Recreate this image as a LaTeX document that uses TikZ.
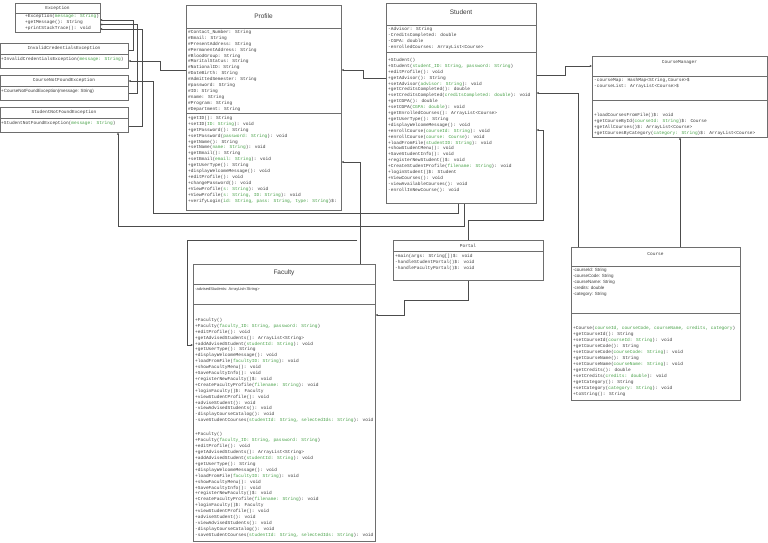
\documentclass[tikz,border=0pt]{standalone}
\usepackage{fontspec}
\setmainfont{Liberation Sans}
\newfontfamily\monof{Liberation Mono}
\usetikzlibrary{arrows.meta}
\definecolor{bc}{RGB}{110,110,110}
\definecolor{tc}{RGB}{60,60,60}
\definecolor{pg}{RGB}{70,160,70}
\newcommand\g[1]{\textcolor{pg}{#1}}
\begin{document}
\begin{tikzpicture}[x=1pt,y=-1pt,
  cls/.style={draw=bc,line width=0.5pt,anchor=north west,inner sep=0pt},
  mem/.style={anchor=north west,inner sep=0pt,align=left,text=tc,font=\monof\fontsize{4.5}{5.9}\selectfont},
  smem/.style={mem,font=\fontsize{4.5}{5.9}\selectfont},
  ttl/.style={text=tc,font=\monof\fontsize{4.5}{5.5}\selectfont},
  bigt/.style={text=tc,font=\fontsize{6.5}{7}\selectfont},
  sep/.style={draw=bc,line width=0.5pt},
  con/.style={draw=black!70,line width=0.5pt,-{Latex[length=2.2pt,width=2.2pt]}}]
\useasboundingbox (0,0) rectangle (768,542);
\fill[white] (0,0) rectangle (768,542);
% Exception
\node[cls,minimum width=85pt,minimum height=29pt] (exc) at (15,3) {};
\draw[sep] (15,13) -- (100,13);
\node[ttl] at (57.5,8) {Exception};
\node[mem] at (17,14) {\hspace*{8pt}+Exception(\g{message: String})\\\hspace*{8pt}+getMessage(): String\\\hspace*{8pt}+printStackTrace(): void};
% InvalidCredentials
\node[cls,minimum width=128pt,minimum height=25pt] (inv) at (0,43) {};
\draw[sep] (0,54) -- (128,54);
\node[ttl] at (64,48.5) {InvalidCredentialsException};
\node[mem] at (1,57.5) {+InvalidCredentialsException(\g{message: String})};
% CourseNotFound
\node[cls,minimum width=128pt,minimum height=25pt] (cnf) at (0,75) {};
\draw[sep] (0,86) -- (128,86);
\node[ttl] at (64,80.5) {CourseNotFoundException};
\node[smem] at (1,89.5) {+CourseNotFoundException(message: String)};
% StudentNotFound
\node[cls,minimum width=128pt,minimum height=25pt] (snf) at (0,107) {};
\draw[sep] (0,118) -- (128,118);
\node[ttl] at (64,112.5) {StudentNotFoundException};
\node[mem] at (1,121.5) {+StudentNotFoundException(\g{message: String})};
% Profile
\node[cls,minimum width=155pt,minimum height=205pt] (prof) at (186,5) {};
\draw[sep] (186,28) -- (341,28);
\draw[sep] (186,113) -- (341,113);
\node[bigt] at (263.5,16) {Profile};
\node[mem] at (188,30) {\#Contact\_Number: String\\\#Email: String\\\#PresentAddress: String\\\#PermanentAddress: String\\\#BloodGroup: String\\\#MaritalStatus: String\\\#NationalID: String\\\#DateBirth: String\\\#AdmittedSemester: String\\\#password: String\\\#ID: String\\\#name: String\\\#Program: String\\\#Department: String};
\node[mem] at (188,116) {+getID(): String\\+setID(\g{ID: String}): void\\+getPassword(): String\\+setPassword(\g{password: String}): void\\+getName(): String\\+setName(\g{name: String}): void\\+getEmail(): String\\+setEmail(\g{email: String}): void\\+getUserType(): String\\+displayWelcomeMessage(): void\\+editProfile(): void\\+changePassword(): void\\+ViewProfile(\g{s: String}): void\\+ViewProfile(\g{s: String, ID: String}): void\\+verifyLogin(\g{id: String, pass: String, type: String})\$:};
% Student
\node[cls,minimum width=150pt,minimum height=200pt] (stu) at (386,3) {};
\draw[sep] (386,25) -- (536,25);
\draw[sep] (386,52) -- (536,52);
\node[bigt] at (461,12) {Student};
\node[mem] at (388,27) {-Advisor: String\\-CreditsCompleted: double\\-CGPA: double\\-enrolledCourses: ArrayList<Course>};
\node[mem] at (388,58) {+Student()\\+Student(\g{student\_ID: String, password: String})\\+editProfile(): void\\+getAdvisor(): String\\+setAdvisor(\g{advisor: String}): void\\+getCreditsCompleted(): double\\+setCreditsCompleted(\g{creditsCompleted: double}): void\\+getCGPA(): double\\+setCGPA(\g{CGPA: double}): void\\+getEnrolledCourses(): ArrayList<Course>\\+getUserType(): String\\+displayWelcomeMessage(): void\\+enrollCourse(\g{courseId: String}): void\\+enrollCourse(\g{course: Course}): void\\+loadFromFile(\g{studentID: String}): void\\+showStudentMenu(): void\\+SaveStudentInfo(): void\\+registerNewStudent()\$: void\\+CreateStudentProfile(\g{filename: String}): void\\+loginStudent()\$: Student\\+ViewCourses(): void\\-viewAvailableCourses(): void\\-enrollInNewCourse(): void};
% CourseManager
\node[cls,minimum width=175pt,minimum height=81pt] (cm) at (592,56) {};
\draw[sep] (592,76) -- (767,76);
\draw[sep] (592,100) -- (767,100);
\node[ttl] at (679.5,62) {CourseManager};
\node[mem] at (594,78) {-courseMap: HashMap<String,Course>\$\\ -courseList: ArrayList<Course>\$};
\node[mem] at (594,113) {+loadCoursesFromFile()\$: void\\+getCourseById(\g{courseId: String})\$: Course\\+getAllCourses()\$: ArrayList<Course>\\+getCoursesByCategory(\g{category: String})\$: ArrayList<Course>};
% Portal
\node[cls,minimum width=150pt,minimum height=40pt] (por) at (393,240) {};
\draw[sep] (393,251) -- (543,251);
\node[ttl] at (468,245.5) {Portal};
\node[mem] at (395,254.5) {+main(args: String[])\$: void\\-handleStudentPortal()\$: void\\-handleFacultyPortal()\$: void};
% Course
\node[cls,minimum width=169pt,minimum height=153pt] (crs) at (571,247) {};
\draw[sep] (571,266) -- (740,266);
\draw[sep] (571,313) -- (740,313);
\node[ttl] at (655.5,254) {Course};
\node[smem] at (573,268) {-courseId: String\\-courseCode: String\\-courseName: String\\-credits: double\\-category: String};
\node[mem,font=\monof\fontsize{4.5}{6}\selectfont] at (573,326) {+Course(\g{courseId, courseCode, courseName, credits, category})\\+getCourseId(): String\\+setCourseId(\g{courseId: String}): void\\+getCourseCode(): String\\+setCourseCode(\g{courseCode: String}): void\\+getCourseName(): String\\+setCourseName(\g{courseName: String}): void\\+getCredits(): double\\+setCredits(\g{credits: double}): void\\+getCategory(): String\\+setCategory(\g{category: String}): void\\+toString(): String};
% Faculty
\node[cls,minimum width=182pt,minimum height=277pt] (fac) at (193,264) {};
\draw[sep] (193,284) -- (375,284);
\draw[sep] (193,304) -- (375,304);
\node[bigt] at (284,273) {Faculty};
\node[smem,font=\fontsize{4}{5}\selectfont] at (195,287) {-advisedStudents: ArrayList<String>};
\node[mem] at (195,318) {+Faculty()\\+Faculty(\g{faculty\_ID: String, password: String})\\+editProfile(): void\\+getAdvisedStudents(): ArrayList<String>\\+addAdvisedStudent(\g{studentId: String}): void\\+getUserType(): String\\+displayWelcomeMessage(): void\\+loadFromFile(\g{facultyID: String}): void\\+showFacultyMenu(): void\\+SaveFacultyInfo(): void\\+registerNewFaculty()\$: void\\+CreateFacultyProfile(\g{filename: String}): void\\+loginFaculty()\$: Faculty\\+viewStudentProfile(): void\\+adviseStudent(): void\\-viewAdvisedStudents(): void\\-displayCourseCatalog(): void\\-saveStudentCourses(\g{studentId: String, selectedIds: String}): void};
\node[mem,font=\monof\fontsize{4.5}{5.95}\selectfont] at (195,432) {+Faculty()\\+Faculty(\g{faculty\_ID: String, password: String})\\+editProfile(): void\\+getAdvisedStudents(): ArrayList<String>\\+addAdvisedStudent(\g{studentId: String}): void\\+getUserType(): String\\+displayWelcomeMessage(): void\\+loadFromFile(\g{facultyID: String}): void\\+showFacultyMenu(): void\\+SaveFacultyInfo(): void\\+registerNewFaculty()\$: void\\+CreateFacultyProfile(\g{filename: String}): void\\+loginFaculty()\$: Faculty\\+viewStudentProfile(): void\\+adviseStudent(): void\\-viewAdvisedStudents(): void\\-displayCourseCatalog(): void\\-saveStudentCourses(\g{studentId: String, selectedIds: String}): void};
% connectors
\coordinate (e1) at (100,20); \coordinate (e2) at (100,24.5); \coordinate (e3) at (100,29);
\draw[con] (inv.east |- 0,50) -| (133,20) -- (e1);
\draw[con] (cnf.east |- 0,93) -| (137,24.5) -- (e2);
\draw[con] (snf.east |- 0,126) -| (142,29) -- (e3);
\draw[con] (prof.west |- 0,70) -| (160,61) -- (inv.east |- 0,61);
\draw[con] (stu.south -| 458,0) |- (153,213) |- (cnf.east |- 0,81);
\draw[con] (stu.south -| 464,0) |- (118,226) -- (snf.south -| 118,0);
\draw[con] (stu.west |- 0,78) -| (363,70) -- (prof.east |- 0,70);
\draw[con] (fac.north -| 360,0) |- (prof.east |- 0,162);
\draw[con] (357,240) -| (187,345) -- (fac.west |- 0,345);
\draw[con] (por.north -| 468,0) |- (543,220) |- (stu.east |- 0,130);
\draw[con] (por.south -| 468,0) |- (404,300) |- (fac.east |- 0,315);
\draw[con] (stu.east |- 0,75) -| (565,66) -- (cm.west |- 0,66);
\draw[con] (crs.north -| 578,0) |- (stu.east |- 0,93);
\draw[con] (crs.north -| 680,0) -- (cm.south -| 680,0);
\end{tikzpicture}
\end{document}
